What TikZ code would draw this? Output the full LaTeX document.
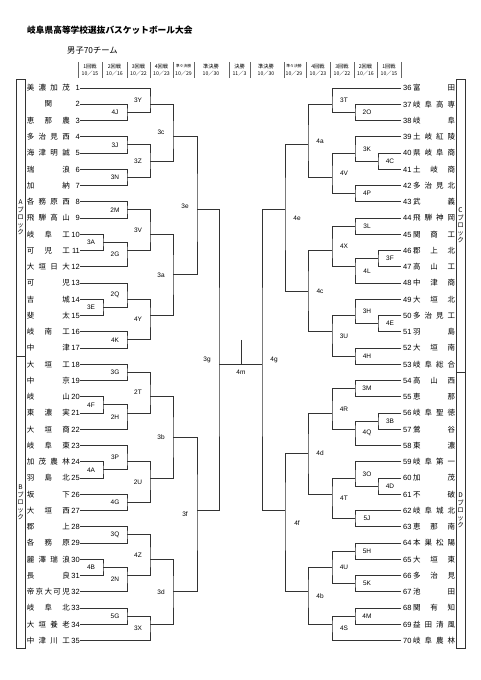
\documentclass[tikz,border=0pt]{standalone}
\usepackage{fontspec}
\setmainfont{Liberation Sans}
\newfontfamily\jp{Noto Sans CJK JP}
\tikzstyle{tmL}=[anchor=east,inner sep=0pt,font=\fontsize{7.5}{7.5}\selectfont]
\tikzstyle{tmR}=[anchor=west,inner sep=0pt,font=\fontsize{7.5}{7.5}\selectfont]
\tikzstyle{ln}=[draw=black!80,line width=.8pt]
\tikzstyle{lb}=[inner sep=0pt,font=\fontsize{6.5}{6.5}\selectfont]
\tikzstyle{hd}=[inner sep=0pt,font=\jp\fontsize{5.2}{5.2}\selectfont]
\tikzstyle{hsep}=[draw=black!60,line width=.4pt]
\tikzstyle{blk}=[draw=black!80,line width=.6pt]
\tikzstyle{bk}=[inner sep=0pt,align=center,font=\jp\fontsize{6.5}{7.5}\selectfont]
\newcommand{\nmL}[2]{{\jp\makebox[43pt][s]{#1}}\makebox[10pt][r]{#2}\hspace{1pt}}
\newcommand{\nmR}[2]{\hspace{2pt}\makebox[10pt][l]{#1}{\jp\makebox[42pt][s]{#2}}}

\begin{document}
\begin{tikzpicture}[x=1pt,y=-16.25pt]
\useasboundingbox (0,-4.4154) rectangle (481,37.4308);
\node[anchor=west,inner sep=0pt,font=\jp\bfseries\fontsize{8.7}{8.7}\selectfont] (title) at (27,-2.57) {岐阜県高等学校選抜バスケットボール大会};
\node[anchor=west,inner sep=0pt,font=\jp\fontsize{8.3}{8.3}\selectfont] (sub) at (67,-1.28) {男子70チーム};
\draw[hsep] (78,-0.6) -- (78,0.36); \draw[hsep] (102,-0.6) -- (102,0.36); \draw[hsep] (127,-0.6) -- (127,0.36); \draw[hsep] (150,-0.6) -- (150,0.36); \draw[hsep] (173,-0.6) -- (173,0.36); \draw[hsep] (194,-0.6) -- (194,0.36); \draw[hsep] (229,-0.6) -- (229,0.36);
\draw[hsep] (250,-0.6) -- (250,0.36); \draw[hsep] (284,-0.6) -- (284,0.36); \draw[hsep] (306,-0.6) -- (306,0.36); \draw[hsep] (330,-0.6) -- (330,0.36); \draw[hsep] (354,-0.6) -- (354,0.36); \draw[hsep] (377,-0.6) -- (377,0.36); \draw[hsep] (401,-0.6) -- (401,0.36);
\node[hd] (h1) at (90,-0.35) {1回戦}; \node[hd] (d1) at (90,0.08) {10／15};
\node[hd] (h2) at (114.5,-0.35) {2回戦}; \node[hd] (d2) at (114.5,0.08) {10／16};
\node[hd] (h3) at (138.5,-0.35) {3回戦}; \node[hd] (d3) at (138.5,0.08) {10／22};
\node[hd] (h4) at (161.5,-0.35) {4回戦}; \node[hd] (d4) at (161.5,0.08) {10／23};
\node[hd,font=\jp\fontsize{3.8}{3.8}\selectfont] (h5) at (183.5,-0.35) {準々決勝}; \node[hd] (d5) at (183.5,0.08) {10／29};
\node[hd] (h6) at (211,-0.35) {準決勝}; \node[hd] (d6) at (211,0.08) {10／30};
\node[hd] (h7) at (239.5,-0.35) {決勝}; \node[hd] (d7) at (239.5,0.08) {11／3};
\node[hd] (h8) at (266,-0.35) {準決勝}; \node[hd] (d8) at (266,0.08) {10／30};
\node[hd,font=\jp\fontsize{3.8}{3.8}\selectfont] (h9) at (294,-0.35) {準々決勝}; \node[hd] (d9) at (294,0.08) {10／29};
\node[hd] (h10) at (318,-0.35) {4回戦}; \node[hd] (d10) at (318,0.08) {10／23};
\node[hd] (h11) at (342,-0.35) {3回戦}; \node[hd] (d11) at (342,0.08) {10／22};
\node[hd] (h12) at (365.5,-0.35) {2回戦}; \node[hd] (d12) at (365.5,0.08) {10／16};
\node[hd] (h13) at (389,-0.35) {1回戦}; \node[hd] (d13) at (389,0.08) {10／15};
\draw[blk] (16,0.45) rectangle (25,17.5); \draw[blk] (16,17.5) rectangle (25,35.5);
\draw[blk] (456,0.45) rectangle (465,18.5); \draw[blk] (456,18.5) rectangle (465,35.5);
\node[bk] (bA) at (20.5,8.97) {A\\ブ\\ロ\\ッ\\ク};
\node[bk] (bB) at (20.5,26.5) {B\\ブ\\ロ\\ッ\\ク};
\node[bk] (bC) at (460.5,9.47) {C\\ブ\\ロ\\ッ\\ク};
\node[bk] (bD) at (460.5,27) {D\\ブ\\ロ\\ッ\\ク};
\node[tmL] (t1) at (80,1) {\nmL{美\hfill 濃\hfill 加\hfill 茂}{1}};
\node[tmL] (t2) at (80,2) {\nmL{\hfill 関\hfill}{2}};
\node[tmL] (t3) at (80,3) {\nmL{恵\hfill 那\hfill 農}{3}};
\node[tmL] (t4) at (80,4) {\nmL{多\hfill 治\hfill 見\hfill 西}{4}};
\node[tmL] (t5) at (80,5) {\nmL{海\hfill 津\hfill 明\hfill 誠}{5}};
\node[tmL] (t6) at (80,6) {\nmL{瑞\hfill 浪}{6}};
\node[tmL] (t7) at (80,7) {\nmL{加\hfill 納}{7}};
\node[tmL] (t8) at (80,8) {\nmL{各\hfill 務\hfill 原\hfill 西}{8}};
\node[tmL] (t9) at (80,9) {\nmL{飛\hfill 騨\hfill 高\hfill 山}{9}};
\node[tmL] (t10) at (80,10) {\nmL{岐\hfill 阜\hfill 工}{10}};
\node[tmL] (t11) at (80,11) {\nmL{可\hfill 児\hfill 工}{11}};
\node[tmL] (t12) at (80,12) {\nmL{大\hfill 垣\hfill 日\hfill 大}{12}};
\node[tmL] (t13) at (80,13) {\nmL{可\hfill 児}{13}};
\node[tmL] (t14) at (80,14) {\nmL{吉\hfill 城}{14}};
\node[tmL] (t15) at (80,15) {\nmL{斐\hfill 太}{15}};
\node[tmL] (t16) at (80,16) {\nmL{岐\hfill 南\hfill 工}{16}};
\node[tmL] (t17) at (80,17) {\nmL{中\hfill 津}{17}};
\node[tmL] (t18) at (80,18) {\nmL{大\hfill 垣\hfill 工}{18}};
\node[tmL] (t19) at (80,19) {\nmL{中\hfill 京}{19}};
\node[tmL] (t20) at (80,20) {\nmL{岐\hfill 山}{20}};
\node[tmL] (t21) at (80,21) {\nmL{東\hfill 濃\hfill 実}{21}};
\node[tmL] (t22) at (80,22) {\nmL{大\hfill 垣\hfill 商}{22}};
\node[tmL] (t23) at (80,23) {\nmL{岐\hfill 阜\hfill 東}{23}};
\node[tmL] (t24) at (80,24) {\nmL{加\hfill 茂\hfill 農\hfill 林}{24}};
\node[tmL] (t25) at (80,25) {\nmL{羽\hfill 島\hfill 北}{25}};
\node[tmL] (t26) at (80,26) {\nmL{坂\hfill 下}{26}};
\node[tmL] (t27) at (80,27) {\nmL{大\hfill 垣\hfill 西}{27}};
\node[tmL] (t28) at (80,28) {\nmL{郡\hfill 上}{28}};
\node[tmL] (t29) at (80,29) {\nmL{各\hfill 務\hfill 原}{29}};
\node[tmL] (t30) at (80,30) {\nmL{麗\hfill 澤\hfill 瑞\hfill 浪}{30}};
\node[tmL] (t31) at (80,31) {\nmL{長\hfill 良}{31}};
\node[tmL] (t32) at (80,32) {\nmL{帝\hfill 京\hfill 大\hfill 可\hfill 児}{32}};
\node[tmL] (t33) at (80,33) {\nmL{岐\hfill 阜\hfill 北}{33}};
\node[tmL] (t34) at (80,34) {\nmL{大\hfill 垣\hfill 養\hfill 老}{34}};
\node[tmL] (t35) at (80,35) {\nmL{中\hfill 津\hfill 川\hfill 工}{35}};
\node[tmR] (t36) at (401,1) {\nmR{36}{富\hfill 田}};
\node[tmR] (t37) at (401,2) {\nmR{37}{岐\hfill 阜\hfill 高\hfill 専}};
\node[tmR] (t38) at (401,3) {\nmR{38}{岐\hfill 阜}};
\node[tmR] (t39) at (401,4) {\nmR{39}{土\hfill 岐\hfill 紅\hfill 陵}};
\node[tmR] (t40) at (401,5) {\nmR{40}{県\hfill 岐\hfill 阜\hfill 商}};
\node[tmR] (t41) at (401,6) {\nmR{41}{土\hfill 岐\hfill 商}};
\node[tmR] (t42) at (401,7) {\nmR{42}{多\hfill 治\hfill 見\hfill 北}};
\node[tmR] (t43) at (401,8) {\nmR{43}{武\hfill 義}};
\node[tmR] (t44) at (401,9) {\nmR{44}{飛\hfill 騨\hfill 神\hfill 岡}};
\node[tmR] (t45) at (401,10) {\nmR{45}{関\hfill 商\hfill 工}};
\node[tmR] (t46) at (401,11) {\nmR{46}{郡\hfill 上\hfill 北}};
\node[tmR] (t47) at (401,12) {\nmR{47}{高\hfill 山\hfill 工}};
\node[tmR] (t48) at (401,13) {\nmR{48}{中\hfill 津\hfill 商}};
\node[tmR] (t49) at (401,14) {\nmR{49}{大\hfill 垣\hfill 北}};
\node[tmR] (t50) at (401,15) {\nmR{50}{多\hfill 治\hfill 見\hfill 工}};
\node[tmR] (t51) at (401,16) {\nmR{51}{羽\hfill 島}};
\node[tmR] (t52) at (401,17) {\nmR{52}{大\hfill 垣\hfill 南}};
\node[tmR] (t53) at (401,18) {\nmR{53}{岐\hfill 阜\hfill 総\hfill 合}};
\node[tmR] (t54) at (401,19) {\nmR{54}{高\hfill 山\hfill 西}};
\node[tmR] (t55) at (401,20) {\nmR{55}{恵\hfill 那}};
\node[tmR] (t56) at (401,21) {\nmR{56}{岐\hfill 阜\hfill 聖\hfill 徳}};
\node[tmR] (t57) at (401,22) {\nmR{57}{鶯\hfill 谷}};
\node[tmR] (t58) at (401,23) {\nmR{58}{東\hfill 濃}};
\node[tmR] (t59) at (401,24) {\nmR{59}{岐\hfill 阜\hfill 第\hfill 一}};
\node[tmR] (t60) at (401,25) {\nmR{60}{加\hfill 茂}};
\node[tmR] (t61) at (401,26) {\nmR{61}{不\hfill 破}};
\node[tmR] (t62) at (401,27) {\nmR{62}{岐\hfill 阜\hfill 城\hfill 北}};
\node[tmR] (t63) at (401,28) {\nmR{63}{恵\hfill 那\hfill 南}};
\node[tmR] (t64) at (401,29) {\nmR{64}{本\hfill 巣\hfill 松\hfill 陽}};
\node[tmR] (t65) at (401,30) {\nmR{65}{大\hfill 垣\hfill 東}};
\node[tmR] (t66) at (401,31) {\nmR{66}{多\hfill 治\hfill 見}};
\node[tmR] (t67) at (401,32) {\nmR{67}{池\hfill 田}};
\node[tmR] (t68) at (401,33) {\nmR{68}{関\hfill 有\hfill 知}};
\node[tmR] (t69) at (401,34) {\nmR{69}{益\hfill 田\hfill 清\hfill 風}};
\node[tmR] (t70) at (401,35) {\nmR{70}{岐\hfill 阜\hfill 農\hfill 林}};
\coordinate (j4J) at (127,2.5); \draw[ln] (t2.east) -| (j4J) |- (t3.east); \node[lb] (l4J) at (115,2.5) {4J};
\coordinate (j3Y) at (150,2); \draw[ln] (t1.east) -| (j3Y) |- (j4J); \node[lb] (l3Y) at (138,1.75) {3Y};
\coordinate (j3J) at (127,4.5); \draw[ln] (t4.east) -| (j3J) |- (t5.east); \node[lb] (l3J) at (115,4.5) {3J};
\coordinate (j3N) at (127,6.5); \draw[ln] (t6.east) -| (j3N) |- (t7.east); \node[lb] (l3N) at (115,6.5) {3N};
\coordinate (j3Z) at (150,5.5); \draw[ln] (j3J) -| (j3Z) |- (j3N); \node[lb] (l3Z) at (138,5.5) {3Z};
\coordinate (j3c) at (173,4); \draw[ln] (j3Y) -| (j3c) |- (j3Z); \node[lb] (l3c) at (161,3.75) {3c};
\coordinate (j2M) at (127,8.5); \draw[ln] (t8.east) -| (j2M) |- (t9.east); \node[lb] (l2M) at (115,8.5) {2M};
\coordinate (j3A) at (103,10.5); \draw[ln] (t10.east) -| (j3A) |- (t11.east); \node[lb] (l3A) at (91,10.5) {3A};
\coordinate (j2G) at (127,11); \draw[ln] (j3A) -| (j2G) |- (t12.east); \node[lb] (l2G) at (115,11.25) {2G};
\coordinate (j3V) at (150,10); \draw[ln] (j2M) -| (j3V) |- (j2G); \node[lb] (l3V) at (138,9.75) {3V};
\coordinate (j3E) at (103,14.5); \draw[ln] (t14.east) -| (j3E) |- (t15.east); \node[lb] (l3E) at (91,14.5) {3E};
\coordinate (j2Q) at (127,14); \draw[ln] (t13.east) -| (j2Q) |- (j3E); \node[lb] (l2Q) at (115,13.75) {2Q};
\coordinate (j4K) at (127,16.5); \draw[ln] (t16.east) -| (j4K) |- (t17.east); \node[lb] (l4K) at (115,16.5) {4K};
\coordinate (j4Y) at (150,15); \draw[ln] (j2Q) -| (j4Y) |- (j4K); \node[lb] (l4Y) at (138,15.25) {4Y};
\coordinate (j3a) at (173,12.5); \draw[ln] (j3V) -| (j3a) |- (j4Y); \node[lb] (l3a) at (161,12.5) {3a};
\coordinate (j3e) at (197,8.5); \draw[ln] (j3c) -| (j3e) |- (j3a); \node[lb] (l3e) at (185,8.25) {3e};
\coordinate (j3G) at (127,18.5); \draw[ln] (t18.east) -| (j3G) |- (t19.east); \node[lb] (l3G) at (115,18.5) {3G};
\coordinate (j4F) at (103,20.5); \draw[ln] (t20.east) -| (j4F) |- (t21.east); \node[lb] (l4F) at (91,20.5) {4F};
\coordinate (j2H) at (127,21); \draw[ln] (j4F) -| (j2H) |- (t22.east); \node[lb] (l2H) at (115,21.25) {2H};
\coordinate (j2T) at (150,20); \draw[ln] (j3G) -| (j2T) |- (j2H); \node[lb] (l2T) at (138,19.75) {2T};
\coordinate (j4A) at (103,24.5); \draw[ln] (t24.east) -| (j4A) |- (t25.east); \node[lb] (l4A) at (91,24.5) {4A};
\coordinate (j3P) at (127,24); \draw[ln] (t23.east) -| (j3P) |- (j4A); \node[lb] (l3P) at (115,23.75) {3P};
\coordinate (j4G) at (127,26.5); \draw[ln] (t26.east) -| (j4G) |- (t27.east); \node[lb] (l4G) at (115,26.5) {4G};
\coordinate (j2U) at (150,25); \draw[ln] (j3P) -| (j2U) |- (j4G); \node[lb] (l2U) at (138,25.25) {2U};
\coordinate (j3b) at (173,22.5); \draw[ln] (j2T) -| (j3b) |- (j2U); \node[lb] (l3b) at (161,22.5) {3b};
\coordinate (j3Q) at (127,28.5); \draw[ln] (t28.east) -| (j3Q) |- (t29.east); \node[lb] (l3Q) at (115,28.5) {3Q};
\coordinate (j4B) at (103,30.5); \draw[ln] (t30.east) -| (j4B) |- (t31.east); \node[lb] (l4B) at (91,30.5) {4B};
\coordinate (j2N) at (127,31); \draw[ln] (j4B) -| (j2N) |- (t32.east); \node[lb] (l2N) at (115,31.25) {2N};
\coordinate (j4Z) at (150,30); \draw[ln] (j3Q) -| (j4Z) |- (j2N); \node[lb] (l4Z) at (138,29.75) {4Z};
\coordinate (j5G) at (127,33.5); \draw[ln] (t33.east) -| (j5G) |- (t34.east); \node[lb] (l5G) at (115,33.5) {5G};
\coordinate (j3X) at (150,34); \draw[ln] (j5G) -| (j3X) |- (t35.east); \node[lb] (l3X) at (138,34.25) {3X};
\coordinate (j3d) at (173,32); \draw[ln] (j4Z) -| (j3d) |- (j3X); \node[lb] (l3d) at (161,32) {3d};
\coordinate (j3f) at (197,27); \draw[ln] (j3b) -| (j3f) |- (j3d); \node[lb] (l3f) at (185,27.25) {3f};
\coordinate (j3g) at (219,18); \draw[ln] (j3e) -| (j3g) |- (j3f); \node[lb] (l3g) at (207,17.75) {3g};
\coordinate (j2O) at (355,2.5); \draw[ln] (t37.west) -| (j2O) |- (t38.west); \node[lb] (l2O) at (367,2.5) {2O};
\coordinate (j3T) at (332,2); \draw[ln] (t36.west) -| (j3T) |- (j2O); \node[lb] (l3T) at (344,1.75) {3T};
\coordinate (j4C) at (378,5.5); \draw[ln] (t40.west) -| (j4C) |- (t41.west); \node[lb] (l4C) at (390,5.5) {4C};
\coordinate (j3K) at (355,5); \draw[ln] (t39.west) -| (j3K) |- (j4C); \node[lb] (l3K) at (367,4.75) {3K};
\coordinate (j4P) at (355,7.5); \draw[ln] (t42.west) -| (j4P) |- (t43.west); \node[lb] (l4P) at (367,7.5) {4P};
\coordinate (j4V) at (332,6.5); \draw[ln] (j3K) -| (j4V) |- (j4P); \node[lb] (l4V) at (344,6.25) {4V};
\coordinate (j4a) at (308,4.5); \draw[ln] (j3T) -| (j4a) |- (j4V); \node[lb] (l4a) at (320,4.25) {4a};
\coordinate (j3L) at (355,9.5); \draw[ln] (t44.west) -| (j3L) |- (t45.west); \node[lb] (l3L) at (367,9.5) {3L};
\coordinate (j3F) at (378,11.5); \draw[ln] (t46.west) -| (j3F) |- (t47.west); \node[lb] (l3F) at (390,11.5) {3F};
\coordinate (j4L) at (355,12); \draw[ln] (j3F) -| (j4L) |- (t48.west); \node[lb] (l4L) at (367,12.25) {4L};
\coordinate (j4X) at (332,11); \draw[ln] (j3L) -| (j4X) |- (j4L); \node[lb] (l4X) at (344,10.75) {4X};
\coordinate (j4E) at (378,15.5); \draw[ln] (t50.west) -| (j4E) |- (t51.west); \node[lb] (l4E) at (390,15.5) {4E};
\coordinate (j3H) at (355,15); \draw[ln] (t49.west) -| (j3H) |- (j4E); \node[lb] (l3H) at (367,14.75) {3H};
\coordinate (j4H) at (355,17.5); \draw[ln] (t52.west) -| (j4H) |- (t53.west); \node[lb] (l4H) at (367,17.5) {4H};
\coordinate (j3U) at (332,16); \draw[ln] (j3H) -| (j3U) |- (j4H); \node[lb] (l3U) at (344,16.25) {3U};
\coordinate (j4c) at (308,13.5); \draw[ln] (j4X) -| (j4c) |- (j3U); \node[lb] (l4c) at (320,13.5) {4c};
\coordinate (j4e) at (285,8.5); \draw[ln] (j4a) -| (j4e) |- (j4c); \node[lb] (l4e) at (297,9) {4e};
\coordinate (j3M) at (355,19.5); \draw[ln] (t54.west) -| (j3M) |- (t55.west); \node[lb] (l3M) at (367,19.5) {3M};
\coordinate (j3B) at (378,21.5); \draw[ln] (t56.west) -| (j3B) |- (t57.west); \node[lb] (l3B) at (390,21.5) {3B};
\coordinate (j4Q) at (355,22); \draw[ln] (j3B) -| (j4Q) |- (t58.west); \node[lb] (l4Q) at (367,22.25) {4Q};
\coordinate (j4R) at (332,21); \draw[ln] (j3M) -| (j4R) |- (j4Q); \node[lb] (l4R) at (344,20.75) {4R};
\coordinate (j4D) at (378,25.5); \draw[ln] (t60.west) -| (j4D) |- (t61.west); \node[lb] (l4D) at (390,25.5) {4D};
\coordinate (j3O) at (355,25); \draw[ln] (t59.west) -| (j3O) |- (j4D); \node[lb] (l3O) at (367,24.75) {3O};
\coordinate (j5J) at (355,27.5); \draw[ln] (t62.west) -| (j5J) |- (t63.west); \node[lb] (l5J) at (367,27.5) {5J};
\coordinate (j4T) at (332,26); \draw[ln] (j3O) -| (j4T) |- (j5J); \node[lb] (l4T) at (344,26.25) {4T};
\coordinate (j4d) at (308,23.5); \draw[ln] (j4R) -| (j4d) |- (j4T); \node[lb] (l4d) at (320,23.5) {4d};
\coordinate (j5H) at (355,29.5); \draw[ln] (t64.west) -| (j5H) |- (t65.west); \node[lb] (l5H) at (367,29.5) {5H};
\coordinate (j5K) at (355,31.5); \draw[ln] (t66.west) -| (j5K) |- (t67.west); \node[lb] (l5K) at (367,31.5) {5K};
\coordinate (j4U) at (332,30.5); \draw[ln] (j5H) -| (j4U) |- (j5K); \node[lb] (l4U) at (344,30.5) {4U};
\coordinate (j4M) at (355,33.5); \draw[ln] (t68.west) -| (j4M) |- (t69.west); \node[lb] (l4M) at (367,33.5) {4M};
\coordinate (j4S) at (332,34); \draw[ln] (j4M) -| (j4S) |- (t70.west); \node[lb] (l4S) at (344,34.25) {4S};
\coordinate (j4b) at (308,32); \draw[ln] (j4U) -| (j4b) |- (j4S); \node[lb] (l4b) at (320,32.25) {4b};
\coordinate (j4f) at (285,27); \draw[ln] (j4d) -| (j4f) |- (j4b); \node[lb] (l4f) at (297,27.75) {4f};
\coordinate (j4g) at (262,18); \draw[ln] (j4e) -| (j4g) |- (j4f); \node[lb] (l4g) at (274,17.75) {4g};
\coordinate (j4m) at (241,18); \coordinate (m4top) at (241,16.5);
\draw[ln] (j3g) -- (j4g); \draw[ln] (m4top) -- (j4m); \node[lb] (l4m) at (241,18.5) {4m};
\end{tikzpicture}
\end{document}
